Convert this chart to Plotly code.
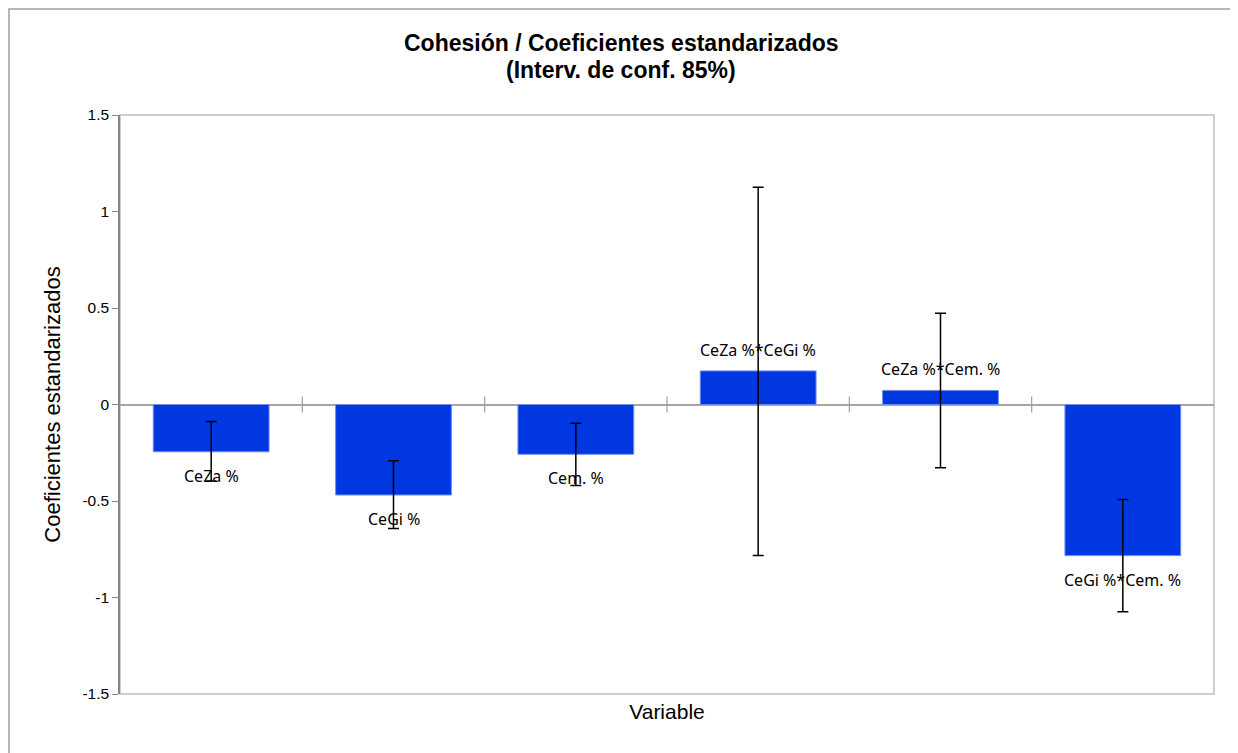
import plotly.graph_objects as go

categories = ["CeZa %", "CeGi %", "Cem. %", "CeZa %*CeGi %", "CeZa %*Cem. %", "CeGi %*Cem. %"]
coefficients = [-0.245, -0.469, -0.258, 0.174, 0.073, -0.783]
ci_lower = [-0.397, -0.643, -0.420, -0.782, -0.328, -1.074]
ci_upper = [-0.088, -0.292, -0.097, 1.126, 0.473, -0.492]
y_ticks = [-1.5, -1, -0.5, 0, 0.5, 1, 1.5]
title_lines = ["Cohesión / Coeficientes estandarizados", "(Interv. de conf. 85%)"]

err_plus = [u - c for u, c in zip(ci_upper, coefficients)]
err_minus = [c - l for c, l in zip(coefficients, ci_lower)]

fig = go.Figure()
fig.add_trace(go.Bar(
    x=list(range(len(categories))),
    y=coefficients,
    marker=dict(color="#0037E0", line=dict(color="#6F8DEB", width=1)),
    error_y=dict(type="data", symmetric=False, array=err_plus, arrayminus=err_minus,
                 color="black", thickness=1.5, width=5.5),
    width=0.635,
    hoverinfo="skip",
))

annotations = []
for i, (cat, v) in enumerate(zip(categories, coefficients)):
    annotations.append(dict(
        x=i, y=v, xref="x", yref="y", text=cat, showarrow=False,
        yshift=(21 if v >= 0 else -24), yanchor="middle",
        font=dict(family="Noto Sans", size=16, color="#000000"),
    ))
for line, yp in zip(title_lines, [1.1244, 1.0777]):
    annotations.append(dict(
        x=0.4584, y=yp, xref="paper", yref="paper", text="<b>%s</b>" % line,
        showarrow=False, xanchor="center", yanchor="middle",
        font=dict(family="Liberation Sans", size=23, color="#000000"),
    ))

shapes = []
# plot-area border
shapes.append(dict(type="rect", xref="paper", yref="paper", x0=0, x1=1, y0=0, y1=1,
                   line=dict(color="#BFBFBF", width=1.5), layer="below"))
# outer chart border
shapes.append(dict(type="rect", xref="paper", yref="paper",
                   x0=-0.1015, x1=1.0201, y0=-0.12, y1=1.1831,
                   line=dict(color="#A0A0A0", width=1.5), layer="below"))
# category boundary ticks crossing the zero line
for i in range(len(categories) - 1):
    shapes.append(dict(type="line", xref="x", yref="paper", x0=i + 0.5, x1=i + 0.5,
                       y0=0.5 - 0.014, y1=0.5 + 0.014,
                       line=dict(color="#A0A0A0", width=1.2)))

fig.update_layout(
    width=1230, height=745,
    margin=dict(l=112, r=24, t=107, b=59),
    paper_bgcolor="white", plot_bgcolor="white",
    showlegend=False,
    xaxis=dict(
        range=[-0.5, len(categories) - 0.5],
        showticklabels=False, showgrid=False, zeroline=False, showline=False,
        ticks="",
        title=dict(text="Variable", standoff=10,
                   font=dict(family="Liberation Sans", size=21, color="#000000")),
    ),
    yaxis=dict(
        range=[-1.5, 1.5], tickvals=y_ticks,
        ticktext=[("%g" % t) for t in y_ticks],
        showgrid=False, zeroline=True, zerolinecolor="#A6A6A6", zerolinewidth=2,
        showline=True, linecolor="#868686", linewidth=1.5,
        ticks="outside", ticklen=6, tickcolor="#868686",
        tickfont=dict(family="Liberation Sans", size=15.5, color="#000000"),
        title=dict(text="Coeficientes estandarizados", standoff=16,
                   font=dict(family="Liberation Sans", size=22, color="#000000")),
    ),
    annotations=annotations,
    shapes=shapes,
)

fig.write_html("out.html")
